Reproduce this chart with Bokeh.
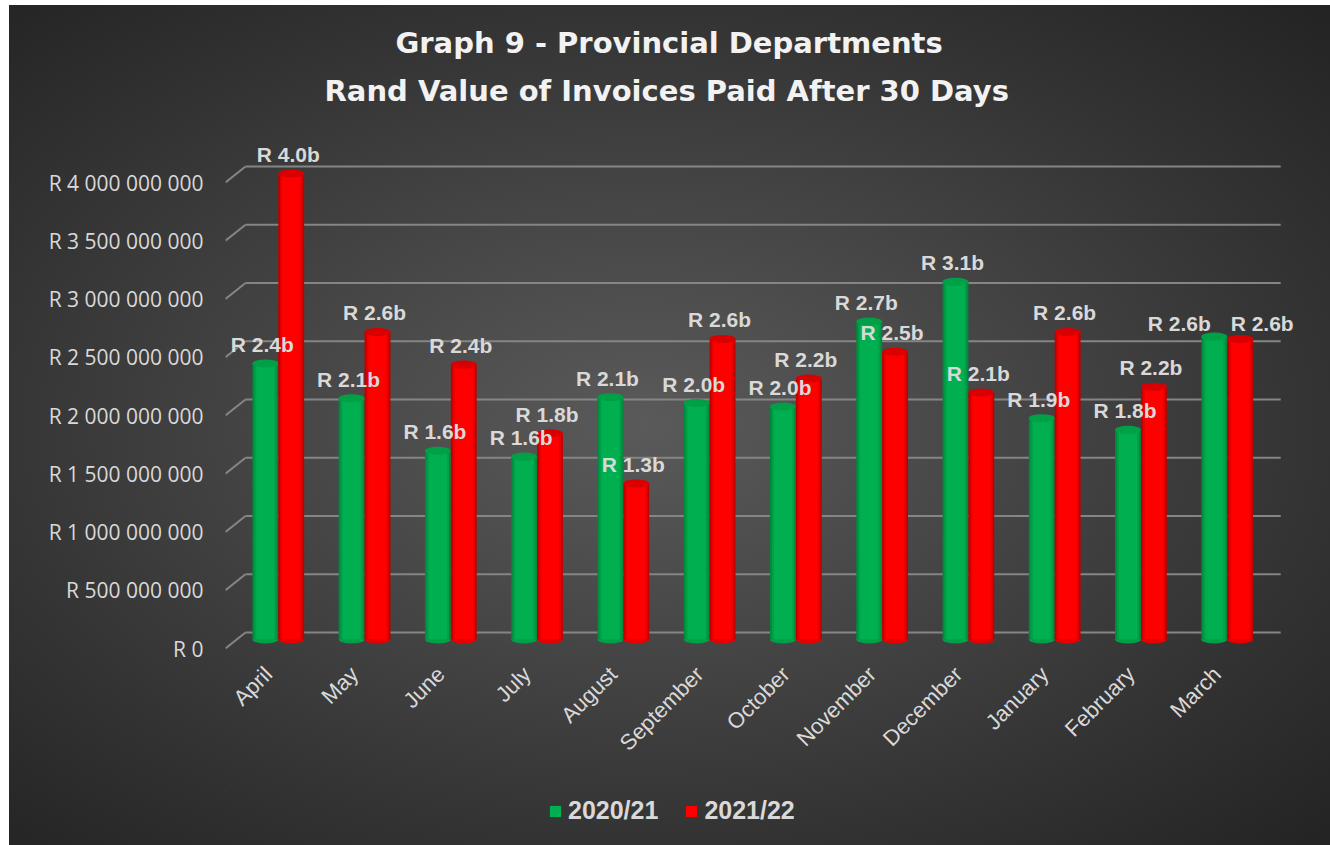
import math
from bokeh.plotting import figure
from bokeh.models import (ColumnDataSource, Range1d, LinearAxis, FixedTicker,
                          Legend, LegendItem, Title)
from bokeh.layouts import column
from bokeh.transform import dodge
from bokeh.core.properties import value
from bokeh.embed import file_html
from bokeh.resources import INLINE

# ---------------- data ----------------
months = ["April", "May", "June", "July", "August", "September",
          "October", "November", "December", "January", "February", "March"]
fy_2020_21 = [2.37e9, 2.07e9, 1.62e9, 1.57e9, 2.08e9, 2.03e9,
              2.00e9, 2.73e9, 3.07e9, 1.90e9, 1.80e9, 2.60e9]
fy_2021_22 = [4.00e9, 2.64e9, 2.36e9, 1.77e9, 1.34e9, 2.58e9,
              2.24e9, 2.47e9, 2.12e9, 2.64e9, 2.17e9, 2.58e9]
series_names = ["2020/21", "2021/22"]
y_ticks = [0, 500000000, 1000000000, 1500000000, 2000000000,
           2500000000, 3000000000, 3500000000, 4000000000]
y_tick_labels = ["R 0", "R 500 000 000", "R 1 000 000 000", "R 1 500 000 000",
                 "R 2 000 000 000", "R 2 500 000 000", "R 3 000 000 000",
                 "R 3 500 000 000", "R 4 000 000 000"]
title_lines = ["Graph 9 - Provincial Departments",
               "Rand Value of Invoices Paid After 30 Days"]

labels_a = [f"R {v / 1e9:.1f}b" for v in fy_2020_21]
labels_b = [f"R {v / 1e9:.1f}b" for v in fy_2021_22]

# label placement nudges (screen px), as placed in the original
nudge_x_a = [-3] * 11 + [-35]
nudge_y_a = [-19] * 11 + [-13]
nudge_x_b = [-3] * 11 + [22]
nudge_y_b = [-19] * 11 + [-15]

src = ColumnDataSource(dict(x=list(range(len(months))), month=months,
                            a=fy_2020_21, b=fy_2021_22, la=labels_a, lb=labels_b,
                            dxa=nudge_x_a, dya=nudge_y_a, dxb=nudge_x_b, dyb=nudge_y_b))

# ---------------- geometry / style ----------------
PXB = 116.5                       # pixels per billion
Y0, Y1 = -13 / PXB * 1e9, 509 / PXB * 1e9
FRONT = 9 / PXB * 1e9             # perspective offset of front edge
BACK = 7 / PXB * 1e9              # perspective offset of back wall
X0, X1 = -0.612, 11.78
BACK_LEFT, BACK_RIGHT = -0.38, 11.62
LABEL_SHIFT = 0.116               # category labels sit on the front edge

TXT = "#d9d9d9"
W = 1321

p = figure(width=W, height=785, output_backend="svg", toolbar_location=None,
           x_range=Range1d(X0, X1), y_range=Range1d(Y0, Y1),
           x_axis_location=None, y_axis_location=None,
           min_border_left=216, min_border_right=36,
           min_border_top=125, min_border_bottom=138)
p.background_fill_color = None
p.border_fill_color = None
p.outline_line_color = None
p.xgrid.visible = False
p.ygrid.visible = False

p.extra_y_ranges = {"front": Range1d(Y0 + FRONT, Y1 + FRONT)}
p.extra_x_ranges = {"front": Range1d(X0 + LABEL_SHIFT, X1 + LABEL_SHIFT)}

# titles
t2 = Title(text=title_lines[1], align="left", offset=99,
           text_font="DejaVu Sans", text_font_size="29px", text_font_style="bold",
           text_color="#f2f2f2", standoff=46)
p.add_layout(t2, "above")
t1 = Title(text=title_lines[0], align="left", offset=170,
           text_font="DejaVu Sans", text_font_size="29px", text_font_style="bold",
           text_color="#f2f2f2", standoff=-22)
p.add_layout(t1, "above")

# x axis (front edge)
xa = LinearAxis(x_range_name="front", ticker=FixedTicker(ticks=list(range(len(months)))),
                major_label_overrides={i: m for i, m in enumerate(months)})
xa.major_label_orientation = math.pi / 4
xa.axis_line_color = None
xa.major_tick_line_color = None
xa.minor_tick_line_color = None
xa.major_label_standoff = 12
xa.major_label_text_font = "Liberation Sans"
xa.major_label_text_font_size = "22px"
xa.major_label_text_color = TXT
p.add_layout(xa, "below")

# y axis (front edge)
ya = LinearAxis(y_range_name="front", ticker=FixedTicker(ticks=y_ticks),
                major_label_overrides={t: l for t, l in zip(y_ticks, y_tick_labels)})
ya.axis_line_color = None
ya.major_tick_line_color = None
ya.minor_tick_line_color = None
ya.major_label_standoff = 16
ya.major_label_text_font = "Open Sans"
ya.major_label_text_font_size = "21px"
ya.major_label_text_color = TXT
p.add_layout(ya, "left")

# gridlines with perspective
gx0, gx1, gy0, gy1 = [], [], [], []
for t in y_ticks:
    gx0 += [BACK_LEFT, X0]
    gx1 += [BACK_RIGHT, BACK_LEFT]
    gy0 += [t + BACK, t - FRONT]
    gy1 += [t + BACK, t + BACK]
p.segment(x0=gx0, y0=gy0, x1=gx1, y1=gy1, line_color="#858585", line_width=2)

# cylinders
BW = 0.30
OFF = 0.15
green = ["#008a3d", "#00a048", "#00b050"]
red = ["#c00000", "#e60000", "#ff0000"]
tops = {"a": "#00a046", "b": "#d80000"}
for col, off, shades in [("a", -OFF, green), ("b", OFF, red)]:
    p.ellipse(x=dodge("x", off), y=0, width=BW, height=8, height_units="screen",
              fill_color=shades[1], line_color=None, source=src)
    for w, c in zip([BW, BW * 0.86, BW * 0.70], shades):
        p.vbar(x=dodge("x", off), top=col, bottom=0, width=w,
               fill_color=c, line_color=None, source=src)
    p.ellipse(x=dodge("x", off), y=col, width=BW, height=8, height_units="screen",
              fill_color=tops[col], line_color=None, source=src)

for col, off, lab, dx, dy in [("a", -OFF, "la", "dxa", "dya"), ("b", OFF, "lb", "dxb", "dyb")]:
    p.text(x=dodge("x", off), y=col, text=lab, x_offset=dx, y_offset=dy,
           text_align="center", text_baseline="middle",
           text_font=value("Liberation Sans"), text_font_size="21px",
           text_font_style="bold", text_color=TXT, source=src)

# ---------------- legend strip ----------------
# the proxy bars use the same data but lie outside this strip's view
p2 = figure(width=W, height=55, output_backend="svg", toolbar_location=None,
            x_range=Range1d(12, 13), y_range=Range1d(-2e9, -1e9),
            x_axis_location=None, y_axis_location=None,
            min_border_left=10, min_border_right=0, min_border_top=0, min_border_bottom=0)
p2.background_fill_color = None
p2.border_fill_color = None
p2.outline_line_color = None
p2.xgrid.visible = False
p2.ygrid.visible = False
lg = p2.vbar(x="x", top="a", bottom=0, width=0.3, fill_color=green[2], line_color=None, source=src)
lr = p2.vbar(x="x", top="b", bottom=0, width=0.3, fill_color=red[2], line_color=None, source=src)
legend = Legend(items=[LegendItem(label=series_names[0], renderers=[lg]),
                       LegendItem(label=series_names[1], renderers=[lr])],
                orientation="horizontal", location=(323, 20),
                glyph_width=14, glyph_height=14, label_standoff=6, spacing=26,
                padding=0, margin=0,
                label_text_font="Liberation Sans", label_text_font_size="25px",
                label_text_font_style="bold", label_text_color=TXT,
                background_fill_alpha=0, border_line_color=None)
p2.add_layout(legend, "center")

layout = column(p, p2, spacing=0,
                styles={"background": "radial-gradient(ellipse at 48% 50%, #5a5a5a 0%, #474747 35%, #333333 70%, #232323 100%)",
                        "margin-left": "9px", "margin-top": "5px"})

open("out.html", "w").write(file_html(layout, INLINE))
